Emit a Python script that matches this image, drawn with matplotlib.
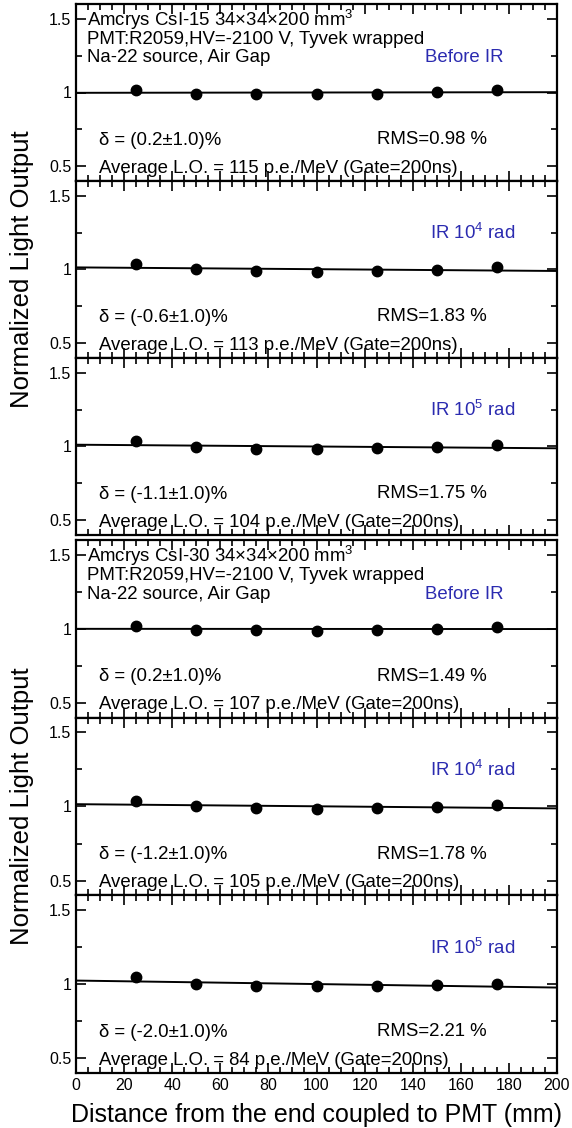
import numpy as np
import matplotlib
matplotlib.use("Agg")
import matplotlib.pyplot as plt
from matplotlib.ticker import MultipleLocator

plt.rcParams['font.family'] = ['Liberation Sans', 'DejaVu Sans']
plt.rcParams['mathtext.fontset'] = 'custom'
plt.rcParams['mathtext.rm'] = 'Liberation Sans'

# positions along the crystal (mm)
distance = [25, 50, 75, 100, 125, 150, 175]

# normalized light output, one list per panel (top to bottom)
lo_csi15_before = [1.02, 0.99, 0.99, 0.99, 0.99, 1.005, 1.015]
lo_csi15_1e4 = [1.04, 1.00, 0.99, 0.985, 0.99, 0.995, 1.015]
lo_csi15_1e5 = [1.04, 0.995, 0.985, 0.985, 0.99, 0.995, 1.01]
lo_csi30_before = [1.02, 0.995, 0.99, 0.985, 0.99, 1.00, 1.015]
lo_csi30_1e4 = [1.04, 1.00, 0.99, 0.985, 0.99, 0.995, 1.01]
lo_csi30_1e5 = [1.05, 1.00, 0.99, 0.985, 0.985, 0.995, 1.00]

series = [lo_csi15_before, lo_csi15_1e4, lo_csi15_1e5,
          lo_csi30_before, lo_csi30_1e4, lo_csi30_1e5]
dose_labels = ["Before IR", "IR 10$^4$ rad", "IR 10$^5$ rad"] * 2
deltas = ["(0.2\u00b11.0)%", "(-0.6\u00b11.0)%", "(-1.1\u00b11.0)%",
          "(0.2\u00b11.0)%", "(-1.2\u00b11.0)%", "(-2.0\u00b11.0)%"]
rms = ["0.98", "1.83", "1.75", "1.49", "1.78", "2.21"]
avg_lo = [115, 113, 104, 107, 105, 84]
crystals = ["Amcrys CsI-15", "Amcrys CsI-30"]

W, H = 572, 1128
fig = plt.figure(figsize=(W / 100, H / 100), dpi=100)
fs = 13.4

left, right = 76, 557
groups = [(4, 535), (540, 1073)]
axes = []
for g, (top, bot) in enumerate(groups):
    h = (bot - top) / 3
    for k in range(3):
        t = top + k * h
        ax = fig.add_axes([left / W, 1 - (t + h) / H, (right - left) / W, h / H])
        axes.append(ax)
    fig.text(22 / W, 1 - (top + bot) / 2 / H, "Normalized Light Output",
             rotation=90, ha='center', va='center', fontsize=18.5)

for i, ax in enumerate(axes):
    y = series[i]
    ax.plot(distance, y, 'o', color='k', markersize=7.5, zorder=3)
    slope, icpt = np.polyfit(distance, y, 1)
    xs = np.array([0, 200])
    ax.plot(xs, icpt + slope * xs, '-', color='k', lw=1.4)

    ax.set_xlim(0, 200)
    ax.set_ylim(0.4, 1.6)
    ax.xaxis.set_major_locator(MultipleLocator(20))
    ax.xaxis.set_minor_locator(MultipleLocator(5))
    ax.yaxis.set_minor_locator(MultipleLocator(0.25))
    ax.set_yticks([0.5, 1, 1.5])
    ax.set_yticklabels(["0.5", "1", "1.5"])
    ax.tick_params(which='both', direction='in', top=True, right=True,
                   width=1.2, labelsize=11.5)
    ax.tick_params(which='major', length=7)
    ax.tick_params(which='minor', length=4)
    for s in ax.spines.values():
        s.set_linewidth(1.6)
    if i != 5:
        ax.tick_params(labelbottom=False)

    if i % 3 == 0:
        c = crystals[i // 3]
        ax.text(4.6, 1.449, c + " 34\u00d734\u00d7200 mm$^3$", fontsize=fs, va='baseline')
        ax.text(4.6, 1.327, "PMT:R2059,HV=-2100 V, Tyvek wrapped", fontsize=fs, va='baseline')
        ax.text(4.6, 1.204, "Na-22 source, Air Gap", fontsize=fs, va='baseline')
        xdose = 145
    else:
        xdose = 147
    ax.text(xdose, 1.204, dose_labels[i], color='#2b2bb0', fontsize=fs, va='baseline')
    ax.text(9.5, 0.645, "\u03b4 = " + deltas[i], fontsize=fs, va='baseline')
    ax.text(125, 0.648, "RMS=" + rms[i] + " %", fontsize=fs, va='baseline')
    ax.text(9.5, 0.456, "Average L.O. = %d p.e./MeV (Gate=200ns)" % avg_lo[i],
            fontsize=fs, va='baseline')

axes[-1].set_xlabel("Distance from the end coupled to PMT (mm)", fontsize=18, labelpad=7)

fig.savefig("out.png", dpi=100)
